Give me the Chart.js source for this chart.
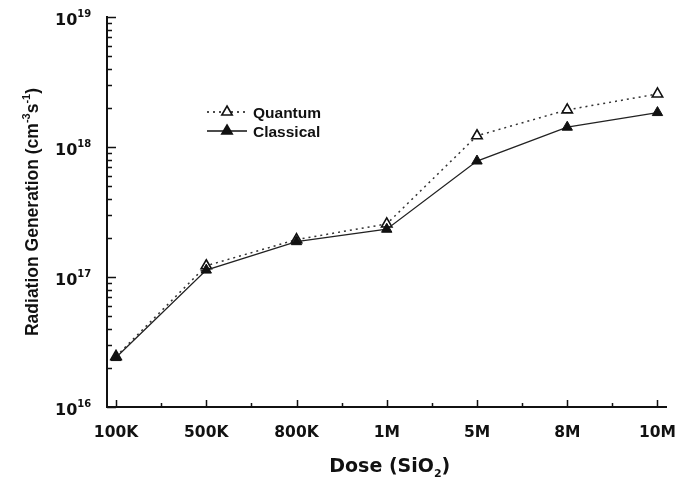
<!DOCTYPE html>
<html>
<head>
<meta charset="utf-8">
<script src="https://cdn.jsdelivr.net/npm/chart.js@4/dist/chart.umd.min.js"></script>
<style>
	html, body { margin: 0; padding: 0; background: #fff; }
	#wrap { width: 692px; height: 478px; position: relative; }
</style>
</head>
<body>
<div id="wrap"><canvas id="myChart"></canvas></div>
<script>
// Dữ liệu
const doses = ['100K', '500K', '800K', '1M', '5M', '8M', '10M'];
const quantumGen = [2.45e16, 1.22e17, 1.94e17, 2.56e17, 1.22e18, 1.93e18, 2.56e18];
const classicalGen = [2.4e16, 1.13e17, 1.87e17, 2.33e17, 7.8e17, 1.42e18, 1.84e18];
const decadeTicks = [1e16, 1e17, 1e18, 1e19];
const decadeLabels = ['16', '17', '18', '19'];

const boldDV = 'bold 15.5px "DejaVu Sans"';
const black = '#111';

// minor ticks of the log axis: 2..9 x each decade
const minorTicks = [];
for (let d = 0; d < decadeTicks.length - 1; d++) {
	for (let m = 2; m <= 9; m++) minorTicks.push(decadeTicks[d] * m);
}

function toXY(arr) {
	return arr.map((v, i) => ({ x: i, y: v }));
}

// vẽ chữ + chỉ số trên/dưới, trả về độ rộng
function drawParts(ctx, parts, x, y, measureOnly) {
	let cx = x;
	parts.forEach(p => {
		ctx.font = p.font;
		if (!measureOnly) ctx.fillText(p.text, cx, y + (p.dy || 0));
		cx += ctx.measureText(p.text).width;
	});
	return cx - x;
}

const axisDecor = {
	id: 'axisDecor',
	afterDraw(chart) {
		const ctx = chart.ctx;
		const xs = chart.scales.x;
		const ys = chart.scales.y;
		const area = chart.chartArea;
		ctx.save();
		ctx.strokeStyle = black;
		ctx.fillStyle = black;
		ctx.lineWidth = 1.5;

		// y ticks (hướng vào trong)
		ctx.beginPath();
		decadeTicks.forEach(v => {
			const py = Math.round(ys.getPixelForValue(v)) + 0.5;
			ctx.moveTo(area.left, py); ctx.lineTo(area.left + 9, py);
		});
		minorTicks.forEach(v => {
			const py = Math.round(ys.getPixelForValue(v)) + 0.5;
			ctx.moveTo(area.left, py); ctx.lineTo(area.left + 5, py);
		});
		// x ticks
		doses.forEach((d, i) => {
			const px = Math.round(xs.getPixelForValue(i)) + 0.5;
			ctx.moveTo(px, area.bottom); ctx.lineTo(px, area.bottom - 7);
			if (i < doses.length - 1) {
				const mx = Math.round(xs.getPixelForValue(i + 0.5)) + 0.5;
				ctx.moveTo(mx, area.bottom); ctx.lineTo(mx, area.bottom - 4);
			}
		});
		ctx.stroke();

		// x tick labels
		ctx.textAlign = 'center';
		ctx.textBaseline = 'alphabetic';
		ctx.font = boldDV;
		doses.forEach((d, i) => {
			ctx.fillText(d, xs.getPixelForValue(i), area.bottom + 30);
		});

		// y tick labels 10^n
		ctx.textAlign = 'left';
		decadeTicks.forEach((v, i) => {
			const py = ys.getPixelForValue(v);
			drawParts(ctx, [
				{ text: '10', font: 'bold 16px "DejaVu Sans"' },
				{ text: decadeLabels[i], font: 'bold 10px "DejaVu Sans"', dy: -8 }
			], 55, py + 8);
		});

		// x title: Dose (SiO2)
		const xParts = [
			{ text: 'Dose (SiO', font: 'bold 19px "DejaVu Sans"' },
			{ text: '2', font: 'bold 11px "DejaVu Sans"', dy: 5 },
			{ text: ')', font: 'bold 19px "DejaVu Sans"' }
		];
		const xw = drawParts(ctx, xParts, 0, 0, true);
		drawParts(ctx, xParts, (area.left + area.right) / 2 + 3 - xw / 2, 472);

		// y title
		const yParts = [
			{ text: 'Radiation Generation (cm', font: 'bold 17.5px "Liberation Sans"' },
			{ text: '-3', font: 'bold 11px "Liberation Sans"', dy: -8 },
			{ text: 's', font: 'bold 17.5px "Liberation Sans"' },
			{ text: '-1', font: 'bold 11px "Liberation Sans"', dy: -8 },
			{ text: ')', font: 'bold 17.5px "Liberation Sans"' }
		];
		const yw = drawParts(ctx, yParts, 0, 0, true);
		ctx.save();
		ctx.translate(38, 212);
		ctx.rotate(-Math.PI / 2);
		drawParts(ctx, yParts, -yw / 2, 0);
		ctx.restore();

		// chú thích (legend)
		const legend = [
			{ text: 'Quantum', dash: [2, 4], fill: '#fff', y: 112 },
			{ text: 'Classical', dash: [], fill: black, y: 131 }
		];
		legend.forEach(l => {
			ctx.lineWidth = 1.4;
			ctx.setLineDash(l.dash);
			ctx.beginPath();
			ctx.moveTo(207, l.y); ctx.lineTo(247, l.y);
			ctx.stroke();
			ctx.setLineDash([]);
			ctx.beginPath();
			ctx.moveTo(227, l.y - 6); ctx.lineTo(232.2, l.y + 3); ctx.lineTo(221.8, l.y + 3);
			ctx.closePath();
			ctx.fillStyle = l.fill;
			ctx.fill();
			ctx.lineWidth = 1.6;
			ctx.stroke();
			ctx.fillStyle = black;
			ctx.font = 'bold 15.5px "Liberation Sans"';
			ctx.fillText(l.text, 253, l.y + 5.5);
		});
		ctx.restore();
	}
};

var ctx = document.getElementById('myChart').getContext('2d');
new Chart(ctx, {
	type: 'line',
	data: {
		datasets: [
			{
				label: 'Quantum',
				data: toXY(quantumGen),
				borderColor: '#333',
				borderWidth: 1.5,
				borderDash: [2, 4],
				pointStyle: 'triangle',
				pointRadius: 6,
				pointBackgroundColor: '#fff',
				pointBorderColor: black,
				pointBorderWidth: 1.6,
				order: 1
			},
			{
				label: 'Classical',
				data: toXY(classicalGen),
				borderColor: '#222',
				borderWidth: 1.3,
				pointStyle: 'triangle',
				pointRadius: 6,
				pointBackgroundColor: black,
				pointBorderColor: black,
				pointBorderWidth: 1,
				order: 0
			}
		]
	},
	options: {
		responsive: true,
		maintainAspectRatio: false,
		animation: false,
		devicePixelRatio: 1,
		layout: { padding: { left: 107, right: 25.5, top: 17, bottom: 71 } },
		plugins: {
			legend: { display: false },
			tooltip: { enabled: false }
		},
		scales: {
			x: {
				type: 'linear',
				min: -0.1,
				max: 6.1,
				grid: { display: false, drawTicks: false },
				ticks: { display: false, padding: 0 },
				border: { display: true, color: black, width: 2 }
			},
			y: {
				type: 'logarithmic',
				min: 1e16,
				max: 1e19,
				grid: { display: false, drawTicks: false },
				ticks: { display: false, padding: 0 },
				border: { display: true, color: black, width: 2 }
			}
		}
	},
	plugins: [axisDecor]
});
</script>
</body>
</html>
